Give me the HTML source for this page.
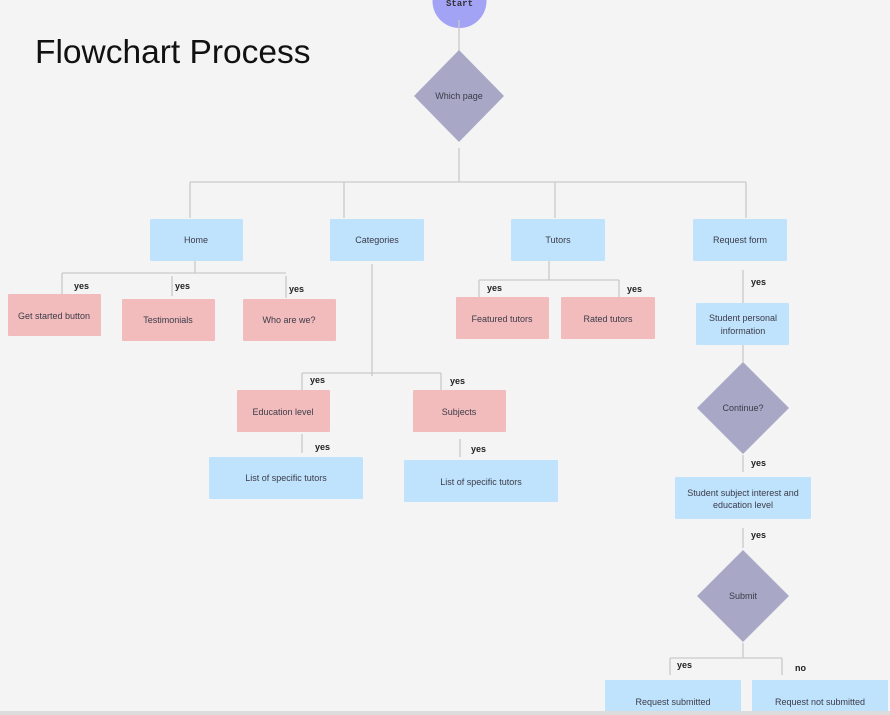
<!DOCTYPE html>
<html><head><meta charset="utf-8"><style>
html,body{margin:0;padding:0;background:#f4f4f4;}
svg{display:block;}
.b{fill:#bfe3fd;}
.p{fill:#f2bcbd;}
.d{fill:#a8a8c6;}
.t{font-family:"Liberation Sans",sans-serif;font-size:9px;fill:#3b3b48;text-anchor:middle;}
.y{font-family:"Liberation Sans",sans-serif;font-size:9px;fill:#222;font-weight:bold;}
.l{stroke:#c9c9c9;stroke-width:1.3;fill:none;}
</style></head><body>
<svg width="890" height="715" viewBox="0 0 890 715" xmlns="http://www.w3.org/2000/svg">
<rect width="890" height="715" fill="#f4f4f4"/>
<text x="35" y="63" font-family="Liberation Sans, sans-serif" font-size="33.5" fill="#111">Flowchart Process</text>

<!-- start -->
<circle cx="459.5" cy="1" r="27" fill="#a3a3f5"/>
<text x="459.5" y="6" font-family="Liberation Mono, monospace" font-size="9" font-weight="bold" fill="#333" text-anchor="middle">Start</text>
<path class="l" d="M459 20V58"/>
<polygon class="d" points="459,50 504,96 459,142 414,96"/>
<text class="t" x="459" y="99" font-size="8">Which page</text>

<path class="l" d="M459 148V182 M190 182H746 M190 182V218 M344 182V218 M555 182V218 M746 182V218"/>

<rect class="b" x="150" y="219" width="93" height="42" rx="1"/>
<text class="t" x="196" y="243">Home</text>
<rect class="b" x="330" y="219" width="94" height="42" rx="1"/>
<text class="t" x="377" y="243">Categories</text>
<rect class="b" x="511" y="219" width="94" height="42" rx="1"/>
<text class="t" x="558" y="243">Tutors</text>
<rect class="b" x="693" y="219" width="94" height="42" rx="1"/>
<text class="t" x="740" y="243">Request form</text>

<!-- home children -->
<path class="l" d="M195 261V273 M62 273H286 M62 273V294 M172 276V296 M286 276V298"/>
<text class="y" x="74" y="289">yes</text>
<text class="y" x="175" y="289">yes</text>
<text class="y" x="289" y="292">yes</text>
<rect class="p" x="8" y="294" width="93" height="42" rx="1"/>
<text class="t" x="54" y="319">Get started button</text>
<rect class="p" x="122" y="299" width="93" height="42" rx="1"/>
<text class="t" x="168" y="323">Testimonials</text>
<rect class="p" x="243" y="299" width="93" height="42" rx="1"/>
<text class="t" x="289" y="323">Who are we?</text>

<!-- categories children -->
<path class="l" d="M372 264V376 M302 373H441 M302 373V390 M441 373V390"/>
<text class="y" x="310" y="383">yes</text>
<text class="y" x="450" y="384">yes</text>
<rect class="p" x="237" y="390" width="93" height="42" rx="1"/>
<text class="t" x="283" y="415">Education level</text>
<rect class="p" x="413" y="390" width="93" height="42" rx="1"/>
<text class="t" x="459" y="415">Subjects</text>
<path class="l" d="M302 434V453 M460 439V457"/>
<text class="y" x="315" y="450">yes</text>
<text class="y" x="471" y="452">yes</text>
<rect class="b" x="209" y="457" width="154" height="42" rx="1"/>
<text class="t" x="286" y="481">List of specific tutors</text>
<rect class="b" x="404" y="460" width="154" height="42" rx="1"/>
<text class="t" x="481" y="485">List of specific tutors</text>

<!-- tutors children -->
<path class="l" d="M549 261V280 M479 280H619 M479 280V297 M619 280V297"/>
<text class="y" x="487" y="291">yes</text>
<text class="y" x="627" y="292">yes</text>
<rect class="p" x="456" y="297" width="93" height="42" rx="1"/>
<text class="t" x="502" y="322">Featured tutors</text>
<rect class="p" x="561" y="297" width="94" height="42" rx="1"/>
<text class="t" x="608" y="322">Rated tutors</text>

<!-- request form chain -->
<path class="l" d="M743 270V304"/>
<text class="y" x="751" y="285">yes</text>
<rect class="b" x="696" y="303" width="93" height="42" rx="1"/>
<text class="t" x="743" y="321">Student personal</text>
<text class="t" x="743" y="334">information</text>
<path class="l" d="M743 345V362"/>
<polygon class="d" points="743,362 789,408 743,454 697,408"/>
<text class="t" x="743" y="411" font-size="8">Continue?</text>
<path class="l" d="M743 455V472"/>
<text class="y" x="751" y="466">yes</text>
<rect class="b" x="675" y="477" width="136" height="42" rx="1"/>
<text class="t" x="743" y="496">Student subject interest and</text>
<text class="t" x="743" y="508">education level</text>
<path class="l" d="M743 528V548"/>
<text class="y" x="751" y="538">yes</text>
<polygon class="d" points="743,550 789,596 743,642 697,596"/>
<text class="t" x="743" y="599" font-size="8">Submit</text>
<path class="l" d="M743 643V658 M670 658H782 M670 658V675 M782 658V675"/>
<text class="y" x="677" y="668">yes</text>
<text class="y" x="795" y="671">no</text>
<rect class="b" x="605" y="680" width="136" height="34" rx="1"/>
<text class="t" x="673" y="705">Request submitted</text>
<rect class="b" x="752" y="680" width="136" height="34" rx="1"/>
<text class="t" x="820" y="705">Request not submitted</text>

<rect x="0" y="711" width="890" height="4" fill="#dcdcdc"/>
</svg>
</body></html>
